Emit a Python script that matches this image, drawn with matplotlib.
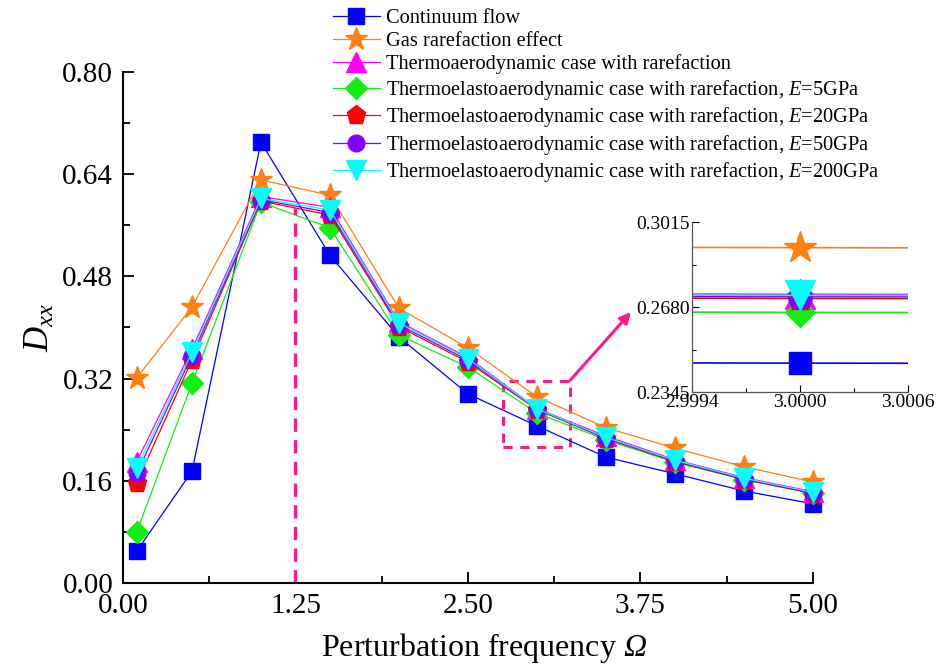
import numpy as np
import matplotlib
matplotlib.use("Agg")
import matplotlib.pyplot as plt
from matplotlib.patches import Rectangle

plt.rcParams['font.family'] = ['Liberation Serif', 'DejaVu Serif']
plt.rcParams['mathtext.fontset'] = 'custom'
plt.rcParams['mathtext.rm'] = 'Liberation Serif'
plt.rcParams['mathtext.it'] = 'Liberation Serif:italic'
plt.rcParams['mathtext.cal'] = 'Liberation Serif:italic'

# Perturbation frequency
omega = [0.1, 0.5, 1.0, 1.5, 2.0, 2.5, 3.0, 3.5, 4.0, 4.5, 5.0]

# D_xx for each case
continuum = [0.050, 0.175, 0.690, 0.513, 0.385, 0.296, 0.2459, 0.197, 0.171, 0.144, 0.124]
rarefaction = [0.321, 0.432, 0.631, 0.607, 0.430, 0.368, 0.2914, 0.243, 0.211, 0.182, 0.158]
thermo = [0.190, 0.366, 0.605, 0.588, 0.409, 0.353, 0.2730, 0.230, 0.193, 0.165, 0.143]
e5 = [0.080, 0.313, 0.596, 0.556, 0.388, 0.338, 0.2659, 0.224, 0.189, 0.162, 0.141]
e20 = [0.157, 0.349, 0.598, 0.576, 0.401, 0.346, 0.2714, 0.226, 0.190, 0.162, 0.140]
e50 = [0.172, 0.356, 0.600, 0.580, 0.404, 0.349, 0.2721, 0.227, 0.191, 0.163, 0.141]
e200 = [0.180, 0.361, 0.602, 0.584, 0.407, 0.351, 0.2726, 0.228, 0.192, 0.164, 0.142]

series = [
    (continuum, "Continuum flow", "#0000FF", "s", 11.5),
    (rarefaction, "Gas rarefaction effect", "#FF8010", "*", 17),
    (thermo, "Thermoaerodynamic case with rarefaction", "#FF00FF", "^", 15),
    (e5, "Thermoelastoaerodynamic case with rarefaction, $E$=5GPa", "#12EE12", "D", 11),
    (e20, "Thermoelastoaerodynamic case with rarefaction, $E$=20GPa", "#FF0000", "p", 14),
    (e50, "Thermoelastoaerodynamic case with rarefaction, $E$=50GPa", "#8000FF", "o", 12),
    (e200, "Thermoelastoaerodynamic case with rarefaction, $E$=200GPa", "#00FFFF", "v", 15),
]

pink = "#FF1A8C"

fig = plt.figure(figsize=(9.38, 6.64), dpi=100)
ax = fig.add_axes([0.1311, 0.1220, 0.7356, 0.7696])

handles = []
for vals, label, color, marker, ms in series:
    h, = ax.plot(omega, vals, color=color, lw=0.9, marker=marker, ms=ms,
                 mec=color, mfc=color, label=label, clip_on=False)
    handles.append(h)

ax.set_xlim(0, 5)
ax.set_ylim(0, 0.8)
ax.set_xticks([0, 1.25, 2.5, 3.75, 5.0])
ax.set_xticks([0.625, 1.875, 3.125, 4.375], minor=True)
ax.set_yticks(np.arange(0, 0.81, 0.16))
ax.set_yticks(np.arange(0.08, 0.8, 0.16), minor=True)
ax.xaxis.set_major_formatter(plt.FormatStrFormatter('%.2f'))
ax.yaxis.set_major_formatter(plt.FormatStrFormatter('%.2f'))
ax.tick_params(which='both', direction='in', width=1.3, labelsize=21, pad=7)
ax.tick_params(which='major', length=8)
ax.tick_params(which='minor', length=5)
for s in ['top', 'right']:
    ax.spines[s].set_visible(False)
for s in ['left', 'bottom']:
    ax.spines[s].set_linewidth(1.5)

ax.set_xlabel("Perturbation frequency $\\mathcal{\u03a9}$", fontsize=23, labelpad=9, x=0.523)
ax.set_ylabel("$D_{xx}$", fontsize=25, labelpad=4)

# highlight marks
ax.plot([1.25, 1.25], [0, 0.587], color=pink, lw=2.4, ls=(0, (4, 2.5)))
ax.add_patch(Rectangle((2.754, 0.213), 0.485, 0.104, fill=False, ec=pink,
                       lw=2.2, ls=(0, (3, 2.5))))
ax.annotate("", xy=(3.681, 0.424), xytext=(3.239, 0.317),
            arrowprops=dict(arrowstyle="-|>", color=pink, lw=2.2,
                            mutation_scale=16, shrinkA=0, shrinkB=0))

fig.legend(handles=handles, loc='upper left', bbox_to_anchor=(333 / 938, 1 - 9 / 664),
           frameon=False, fontsize=14.7, borderpad=0, borderaxespad=0,
           handlelength=2.3, handletextpad=0.3, labelspacing=0.17)

# zoomed inset around Omega = 3
ins = fig.add_axes([0.7377, 0.4096, 0.2303, 0.256])
for vals, label, color, marker, ms in series:
    ins.plot(omega, vals, color=color, lw=1.2, marker=marker, ms=ms * 1.4,
             mec=color, mfc=color)
ins.set_xlim(2.9994, 3.0006)
ins.set_ylim(0.2345, 0.3015)
ins.set_xticks([2.9994, 3.0000, 3.0006])
ins.set_xticks([2.9997, 3.0003], minor=True)
ins.set_yticks([0.2345, 0.2680, 0.3015])
ins.set_yticks([0.25125, 0.28475], minor=True)
ins.xaxis.set_major_formatter(plt.FormatStrFormatter('%.4f'))
ins.yaxis.set_major_formatter(plt.FormatStrFormatter('%.4f'))
ins.tick_params(which='both', direction='in', width=0.8, labelsize=14, pad=1.5)
ins.tick_params(which='major', length=5)
ins.tick_params(which='minor', length=3)
for s in ['top', 'right']:
    ins.spines[s].set_visible(False)
for s in ['left', 'bottom']:
    ins.spines[s].set_color('#555555')
    ins.spines[s].set_linewidth(0.9)

fig.savefig("out.png", dpi=100)
